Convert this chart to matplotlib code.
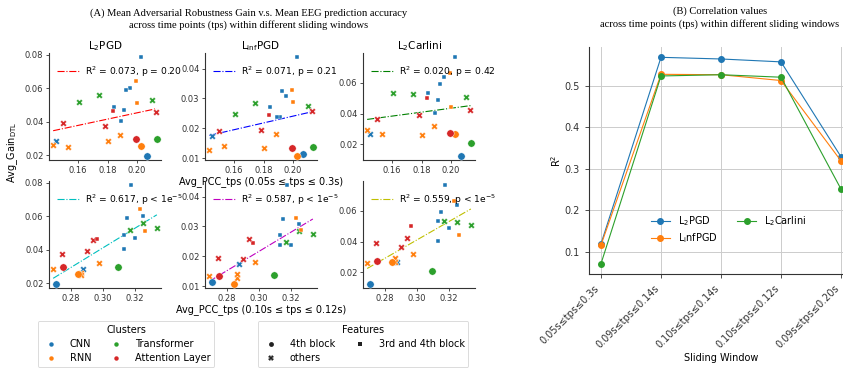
import numpy as np
import matplotlib
matplotlib.use("Agg")
import matplotlib.pyplot as plt
from matplotlib.ticker import MultipleLocator, FormatStrFormatter
from matplotlib.lines import Line2D

# ---------------- data ----------------
clusters = ["CNN", "RNN", "CNN", "CNN", "Transformer", "Transformer", "Transformer", "RNN",
            "CNN", "Attention Layer", "CNN", "Attention Layer", "CNN", "Attention Layer",
            "Attention Layer", "CNN", "RNN", "RNN", "RNN", "RNN", "Attention Layer", "RNN",
            "CNN", "Transformer"]
features = ["34", "34", "34", "34", "oth", "oth", "oth", "34", "34", "34", "34", "oth", "34",
            "oth", "oth", "oth", "oth", "oth", "oth", "oth", "4", "4", "4", "4"]
pcc_win1 = [0.2028, 0.1989, 0.1950, 0.1927, 0.1605, 0.1742, 0.2098, 0.2000, 0.1847, 0.1840,
            0.1909, 0.2126, 0.1893, 0.1497, 0.1783, 0.1451, 0.1433, 0.1531, 0.1806, 0.1881,
            0.1989, 0.2023, 0.2069, 0.2133]
pcc_win2 = [0.3180, 0.3231, 0.3250, 0.3152, 0.3174, 0.3250, 0.3340, 0.3264, 0.3130, 0.2965,
            0.3205, 0.2940, 0.3136, 0.2900, 0.2741, 0.2875, 0.2863, 0.2865, 0.2687, 0.2975,
            0.2752, 0.2843, 0.2708, 0.3096]
gain_l2pgd = [0.0787, 0.0645, 0.0604, 0.0590, 0.0519, 0.0558, 0.0530, 0.0511, 0.0490, 0.0467,
              0.0473, 0.0456, 0.0407, 0.0392, 0.0375, 0.0286, 0.0263, 0.0250, 0.0286, 0.0324,
              0.0296, 0.0255, 0.0196, 0.0296]
gain_linfpgd = [0.0439, 0.0327, 0.0307, 0.0326, 0.0248, 0.0286, 0.0274, 0.0288, 0.0270, 0.0243,
                0.0239, 0.0258, 0.0239, 0.0191, 0.0193, 0.0174, 0.0126, 0.0141, 0.0135, 0.0180,
                0.0133, 0.0107, 0.0115, 0.0137]
gain_l2carlini = [0.0769, 0.0666, 0.0637, 0.0593, 0.0534, 0.0527, 0.0512, 0.0442, 0.0534, 0.0501,
                  0.0490, 0.0422, 0.0402, 0.0367, 0.0391, 0.0270, 0.0292, 0.0266, 0.0260, 0.0319,
                  0.0277, 0.0266, 0.0125, 0.0209]

# regression line end values (at min / max x)
fit_ends = {
    (0, 0): (0.0347, 0.0479), (0, 1): (0.0176, 0.0256), (0, 2): (0.0363, 0.0453),
    (1, 0): (0.0230, 0.0609), (1, 1): (0.0116, 0.0325), (1, 2): (0.0226, 0.0613),
}
fit_labels = {
    (0, 0): r"R$^2$ = 0.073, p = 0.20", (0, 1): r"R$^2$ = 0.071, p = 0.21",
    (0, 2): r"R$^2$ = 0.020, p = 0.42", (1, 0): r"R$^2$ = 0.617, p < 1e$^{-5}$",
    (1, 1): r"R$^2$ = 0.587, p < 1e$^{-5}$", (1, 2): r"R$^2$ = 0.559, p < 1e$^{-5}$",
}
attack_titles = [r"L$_2$PGD", r"L$_{\mathrm{inf}}$PGD", r"L$_2$Carlini"]

windows = ["0.05s≤tps≤0.3s", "0.09s≤tps≤0.14s", "0.10s≤tps≤0.14s",
           "0.10s≤tps≤0.12s", "0.09s≤tps≤0.20s"]
r2_l2pgd = [0.119, 0.569, 0.565, 0.558, 0.329]
r2_linfpgd = [0.116, 0.528, 0.527, 0.513, 0.319]
r2_l2carlini = [0.071, 0.524, 0.527, 0.521, 0.251]

# ---------------- styling ----------------
cluster_names = ["CNN", "RNN", "Transformer", "Attention Layer"]
cluster_colors = {"CNN": "#1f77b4", "RNN": "#ff7f0e", "Transformer": "#2ca02c",
                  "Attention Layer": "#d62728"}
feat_marker = {"4": "o", "34": "s", "oth": "X"}
feat_size = {"4": 28, "34": 10, "oth": 22}
line_colors = {(0, 0): "r", (0, 1): "b", (0, 2): "g", (1, 0): "c", (1, 1): "m", (1, 2): "y"}

W, H = 843, 369
fig = plt.figure(figsize=(W / 100, H / 100), dpi=100)


def ax_px(x0, y0, x1, y1):
    return fig.add_axes([x0 / W, 1 - y1 / H, (x1 - x0) / W, (y1 - y0) / H])


col_x = [(49, 161), (205, 317), (363, 475)]
row_y = [(53, 160), (181, 288)]
xs_rows = [pcc_win1, pcc_win2]
ys_cols = [gain_l2pgd, gain_linfpgd, gain_l2carlini]
ylocs = [0.02, 0.01, 0.02]

for r in range(2):
    for c in range(3):
        ax = ax_px(col_x[c][0], row_y[r][0], col_x[c][1], row_y[r][1])
        ax.patch.set_alpha(0)
        ax.margins(x=0.04, y=0.04)
        xs = np.array(xs_rows[r])
        ys = np.array(ys_cols[c])
        for feat in ["oth", "34", "4"]:
            for cl in cluster_names:
                idx = [i for i in range(len(xs)) if clusters[i] == cl and features[i] == feat]
                if not idx:
                    continue
                ax.scatter(xs[idx], ys[idx], marker=feat_marker[feat], s=feat_size[feat],
                           color=cluster_colors[cl], edgecolor="white", linewidth=0.3, zorder=3)
        y0, y1 = fit_ends[(r, c)]
        ax.plot([xs.min(), xs.max()], [y0, y1], linestyle="-.", color=line_colors[(r, c)],
                lw=0.8, label=fit_labels[(r, c)], zorder=2)
        ax.legend(loc="upper left", bbox_to_anchor=(0.04, 0.93), frameon=False,
                  fontsize=6.6, handlelength=2.4, borderaxespad=0, handletextpad=0.6)
        ax.xaxis.set_major_locator(MultipleLocator(0.02))
        ax.yaxis.set_major_locator(MultipleLocator(ylocs[c]))
        ax.xaxis.set_major_formatter(FormatStrFormatter("%.2f"))
        ax.yaxis.set_major_formatter(FormatStrFormatter("%.2f"))
        ax.tick_params(labelsize=6, length=2.5, width=0.6, pad=1.5, colors="#333333")
        for s in ["top", "right"]:
            ax.spines[s].set_visible(False)
        for s in ["left", "bottom"]:
            ax.spines[s].set_linewidth(0.8)
            ax.spines[s].set_color("#333333")
        if r == 0:
            ax.set_title(attack_titles[c], fontsize=7.5, pad=3)
        if c == 1:
            lab = ("Avg_PCC_tps (0.05s ≤ tps ≤ 0.3s)" if r == 0
                   else "Avg_PCC_tps (0.10s ≤ tps ≤ 0.12s)")
            ax.set_xlabel(lab, fontsize=7, labelpad=1)

fig.text(13 / W, 1 - 152 / H, r"Avg_Gain$_{\mathrm{DTL}}$", rotation=90, fontsize=7,
         ha="center", va="center")

fig.text(249 / W, 1 - 13 / H,
         "(A) Mean Adversarial Robustness Gain v.s. Mean EEG prediction accuracy",
         family="Liberation Serif", fontsize=7.6, ha="center", va="center")
fig.text(249 / W, 1 - 25 / H,
         "across time points (tps) within different sliding windows",
         family="Liberation Serif", fontsize=7.6, ha="center", va="center")

# bottom legends
h_cl = [Line2D([], [], marker="o", color=cluster_colors[n], linestyle="", markersize=3.2,
               markeredgewidth=0) for n in cluster_names]
leg1 = fig.legend(h_cl, cluster_names, title="Clusters", ncol=2, fontsize=7,
                  title_fontsize=7, loc="center", bbox_to_anchor=(126 / W, 1 - 344 / H),
                  frameon=True, numpoints=1, handletextpad=0.9, columnspacing=1.6,
                  labelspacing=0.45, borderpad=0.4, handlelength=2.0)
feat_labels = ["4th block", "others", "3rd and 4th block"]
feat_keys = ["4", "oth", "34"]
h_ft = [Line2D([], [], marker=feat_marker[k], color="#222222", linestyle="",
               markeredgewidth=0, markersize={"4": 3.5, "oth": 3.8, "34": 2.4}[k])
        for k in feat_keys]
leg2 = fig.legend(h_ft, feat_labels, title="Features", ncol=2, fontsize=7,
                  title_fontsize=7, loc="center", bbox_to_anchor=(363 / W, 1 - 344 / H),
                  frameon=True, numpoints=1, handletextpad=0.9, columnspacing=1.6,
                  labelspacing=0.45, borderpad=0.4, handlelength=2.0)
for lg in (leg1, leg2):
    lg.get_frame().set_linewidth(0.6)
    lg.get_frame().set_edgecolor("#cccccc")

# ---------------- panel B ----------------
axb = ax_px(589, 47, 853, 274)
xb = np.arange(len(windows))
axb.plot(xb, r2_l2pgd, marker="o", color="#1f77b4", lw=0.8, markersize=4, label=r"L$_2$PGD")
axb.plot(xb, r2_linfpgd, marker="o", color="#ff7f0e", lw=0.8, markersize=4,
         label=r"L$_{\mathrm{i}}$nfPGD")
axb.plot(xb, r2_l2carlini, marker="o", color="#2ca02c", lw=0.8, markersize=4,
         label=r"L$_2$Carlini")
axb.set_xticks(xb)
axb.set_xticklabels(windows, rotation=45, ha="right", fontsize=7)
axb.yaxis.set_major_locator(MultipleLocator(0.1))
axb.yaxis.set_major_formatter(FormatStrFormatter("%.1f"))
axb.tick_params(axis="y", labelsize=7)
axb.tick_params(length=3, width=0.6, colors="#333333")
axb.grid(True, color="#cccccc", lw=0.7)
axb.set_axisbelow(True)
for s in ["top", "right"]:
    axb.spines[s].set_visible(False)
for s in ["left", "bottom"]:
    axb.spines[s].set_color("#333333")
    axb.spines[s].set_linewidth(0.8)
axb.set_xlabel("Sliding Window", fontsize=7, labelpad=2)
axb.set_ylabel(r"R$^2$", fontsize=7, labelpad=1)
axb.legend(ncol=2, loc="upper left", bbox_to_anchor=(0.2, 0.3), frameon=False, fontsize=7,
           handlelength=2, columnspacing=2, labelspacing=0.3)

fig.text(720 / W, 1 - 11 / H, "(B) Correlation values", family="Liberation Serif",
         fontsize=7.6, ha="center", va="center")
fig.text(720 / W, 1 - 24 / H, "across time points (tps) within different sliding windows",
         family="Liberation Serif", fontsize=7.6, ha="center", va="center")

fig.savefig("out.png", dpi=100)
